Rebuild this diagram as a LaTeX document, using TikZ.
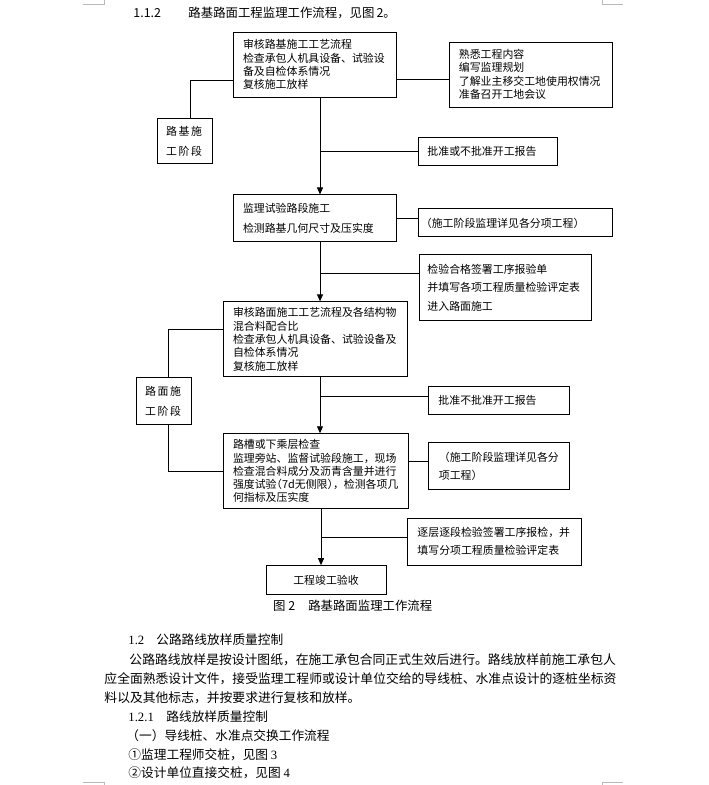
\documentclass[tikz,border=0pt]{standalone}
\usepackage{fontspec}
\setmainfont{Noto Sans CJK SC}
\newfontfamily\numfont{Liberation Serif}
\newfontfamily\halfpunct[RawFeature=+halt]{Noto Sans CJK SC}
\usetikzlibrary{arrows.meta,positioning}

\begin{document}
\begin{tikzpicture}[x=1pt,y=-1pt,>={Triangle[width=6pt,length=7pt]},line width=0.9pt,
  blk/.style={draw,align=left,inner ysep=0pt,font=\fontsize{10.9}{13.3}\selectfont},
  lines/.style={font=\fontsize{10.9}{#1}\selectfont},
  stage/.style={font=\fontsize{10.9}{#1}\selectfont\addfontfeatures{LetterSpace=15}},
  txt/.style={inner sep=0pt,anchor=west,font=\fontsize{12.8}{15}\selectfont},
  head/.style={inner sep=0pt,anchor=west,font=\fontsize{12.7}{15}\selectfont},
  cropmark/.style={draw=gray!55,line width=0.6pt}]
\useasboundingbox (0,0) rectangle (709,785);
\draw[cropmark] (83,4.5) -- (104,4.5) -- (104,0);
\draw[cropmark] (623,4.5) -- (602,4.5) -- (602,0);
\draw[cropmark] (83,782.5) -- (104,782.5) -- (104,785);
\draw[cropmark] (623,782.5) -- (602,782.5) -- (602,785);
\node[txt,font=\fontsize{12.4}{15}\selectfont] (hnum) at (133,13) {1.1.2};
\node[txt,font=\fontsize{12.4}{15}\selectfont] (htxt) at (188,13) {路基路面工程监理工作流程，见图\,2。};
\node[blk,minimum width=163pt,minimum height=65pt,text width=143pt,inner xsep=10pt] (lj) at (314.5,64.5) {审核路基施工工艺流程\\检查承包人机具设备、试验设\\备及自检体系情况\\复核施工放样};
\node[blk,lines=13.5,right=53pt of lj,yshift=-10pt,minimum width=163pt,minimum height=65pt,text width=145pt,inner xsep=9pt] (sx) {熟悉工程内容\\编写监理规划\\了解业主移交工地使用权情况\\准备召开工地会议};
\node[blk,stage=20,below left=21pt and 20pt of lj.south west,minimum width=55pt,minimum height=45pt,text width=37pt,inner xsep=9pt] (ljjd) {路基施\\工阶段};
\coordinate (m1) at ([xshift=5.5pt]lj.south);
\node[blk,right=98pt of m1,yshift=-54pt,minimum width=139pt,minimum height=28pt,text width=121pt,inner xsep=9pt] (pz1) {批准或不批准开工报告};
\node[blk,lines=20,below=97pt of lj,minimum width=163pt,minimum height=47pt,text width=143pt,inner xsep=10pt] (sy) {监理试验路段施工\\检测路基几何尺寸及压实度};
\node[blk,right=22pt of sy,yshift=-4.5pt,minimum width=194pt,minimum height=28pt,text width=190pt,inner xsep=2pt] (xq1) {（施工阶段监理详见各分项工程）};
\coordinate (m2) at ([xshift=5.5pt]sy.south);
\node[blk,lines=18.5,right=99pt of m2,yshift=-45pt,minimum width=172pt,minimum height=66pt,text width=156pt,inner xsep=8pt] (jy) {检验合格签署工序报验单\\并填写各项工程质量检验评定表\\进入路面施工};
\node[blk,below=59pt of sy,xshift=0.5pt,minimum width=184pt,minimum height=75pt,text width=164pt,inner xsep=10pt] (lm) {审核路面施工工艺流程及各结构物\\混合料配合比\\检查承包人机具设备、试验设备及\\自检体系情况\\复核施工放样};
\node[blk,stage=19.5,below left=0pt and 31pt of lm.south west,minimum width=55pt,minimum height=47pt,text width=37pt,inner xsep=9pt] (lmjd) {路面施\\工阶段};
\coordinate (m3) at ([xshift=5pt]lm.south);
\node[blk,right=108pt of m3,yshift=-23pt,minimum width=141pt,minimum height=28pt,text width=121pt,inner xsep=10pt] (pz2) {批准不批准开工报告};
\node[blk,below=56pt of lm,xshift=0.5pt,minimum width=185pt,minimum height=75pt,text width=165pt,inner xsep=10pt] (lc) {路槽或下乘层检查\\监理旁站、监督试验段施工，现场\\检查混合料成分及沥青含量并进行\\强度试验{\halfpunct （}7d无侧限{\halfpunct ）}，检测各项几\\何指标及压实度};
\node[blk,lines=18,right=20pt of lc,yshift=5pt,minimum width=141pt,minimum height=47pt,text width=121pt,inner xsep=10pt] (xq2) {（施工阶段监理详见各分\\项工程）};
\coordinate (m4) at ([xshift=5.5pt]lc.south);
\node[blk,lines=18,right=86pt of m4,yshift=-32.5pt,minimum width=174pt,minimum height=47pt,text width=154pt,inner xsep=10pt] (zc) {逐层逐段检验签署工序报检，并\\填写分项工程质量检验评定表};
\node[blk,align=center,below=56pt of lc,xshift=10.5pt,minimum width=120pt,minimum height=29pt] (jg) {工程竣工验收};
\node[inner sep=0pt,anchor=north west,font=\fontsize{12.4}{15}\selectfont] (cap) at ([xshift=7pt,yshift=-5pt]jg.south west) {图\hspace{3pt}2\hspace{13pt}路基路面监理工作流程};
\draw ([yshift=-14.5pt]lj.east) -- ([yshift=-14.5pt]lj.east -| sx.west);
\draw ([yshift=-15.5pt]lj.west) -| ([xshift=5.5pt]ljjd.north);
\draw[->] (m1) -- (m1 |- sy.north);
\draw (pz1.west) -- (pz1.west -| m1);
\draw (sy.east) -- (sy.east -| xq1.west);
\draw[->] (m2) -- (m2 |- lm.north);
\draw ([yshift=-31pt]m2) -- ([yshift=-31pt]m2 -| jy.west);
\draw ([yshift=9.5pt]lm.west) -| ([xshift=4.5pt]lmjd.north);
\draw ([xshift=4.5pt]lmjd.south) |- (lc.west);
\draw[->] (m3) -- (m3 |- lc.north);
\draw ([yshift=-19pt]m3) -- ([yshift=-19pt]m3 -| pz2.west);
\draw ([yshift=9.5pt]lc.east) -- ([yshift=9.5pt]lc.east -| xq2.west);
\draw[->] (m4) -- (m4 |- jg.north);
\draw ([yshift=-28pt]m4) -- ([yshift=-28pt]m4 -| zc.west);
\node[head] (s12) at (128,640) {{\numfont 1.2}\hspace{12pt}公路路线放样质量控制};
\node[txt] (p1) at (129,660) {公路路线放样是按设计图纸，在施工承包合同正式生效后进行。路线放样前施工承包人};
\node[txt] (p2) at (104,679) {应全面熟悉设计文件，接受监理工程师或设计单位交给的导线桩、水准点设计的逐桩坐标资};
\node[txt] (p3) at (104,698) {料以及其他标志，并按要求进行复核和放样。};
\node[head] (s121) at (128,717) {{\numfont 1.2.1}\hspace{12.5pt}路线放样质量控制};
\node[head] (q1) at (126,736) {（一）导线桩、水准点交换工作流程};
\node[head] (q2) at (128,755) {①监理工程师交桩，见图 {\numfont 3}};
\node[head] (q3) at (128,773) {②设计单位直接交桩，见图 {\numfont 4}};
\end{tikzpicture}
\end{document}
